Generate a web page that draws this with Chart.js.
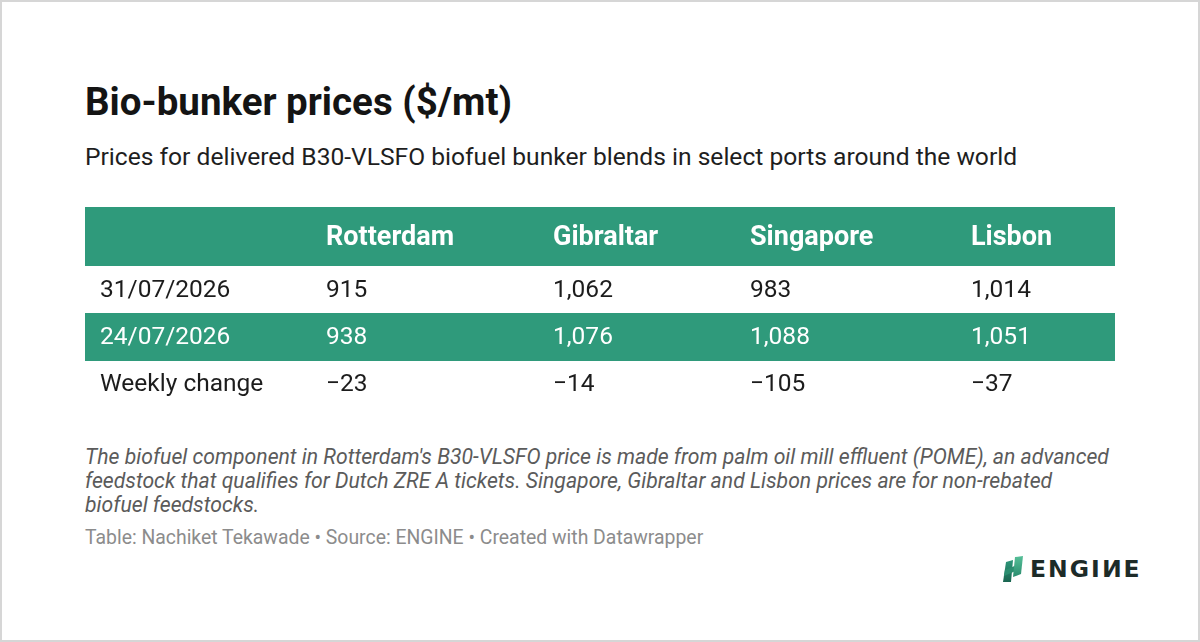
<!DOCTYPE html>
<html>
<head>
<meta charset="utf-8">
<script src="https://cdn.jsdelivr.net/npm/chart.js@4.4.1/dist/chart.umd.min.js"></script>
<style>
  html, body { margin: 0; padding: 0; background: #fff; }
  #page { position: relative; width: 1200px; height: 642px; box-sizing: border-box;
          border: 2px solid #d6d6d6; overflow: hidden; font-family: Roboto, "Noto Sans", sans-serif; }
  .abs { position: absolute; white-space: nowrap; }
  #title { left: 83px; top: 77px; font-size: 38.5px; font-weight: 700; line-height: 46px; color: #141414; }
  #subtitle { left: 83px; top: 140px; font-size: 24.6px; line-height: 30px; color: #1e1e1e; }
  #tableWrap { position: absolute; left: 83px; top: 205px; width: 1030px; height: 201px; }
  #notes { left: 83px; top: 443px; width: 1030px; white-space: normal; font-size: 21.2px; line-height: 24px;
           font-style: italic; color: #5b5b5b; }
  #byline { left: 83px; top: 524px; font-size: 19.4px; line-height: 24px; color: #8c8c8c; }
  #logo { left: 1000px; top: 553px; height: 28px; display: flex; align-items: center; }
  #logoText { font-family: "DejaVu Sans", sans-serif; font-weight: 700; font-size: 23.5px; letter-spacing: 2px;
              color: #1d2b28; margin-left: 6px; line-height: 28px; }
  .flipN { display: inline-block; transform: scaleX(-1); letter-spacing: 0; margin-right: 2px; }
</style>
</head>
<body>
<div id="page">
  <div id="title" class="abs">Bio-bunker prices ($/mt)</div>
  <div id="subtitle" class="abs">Prices for delivered B30-VLSFO biofuel bunker blends in select ports around the world</div>
  <div id="tableWrap"><canvas id="tbl"></canvas></div>
  <div id="notes" class="abs">The biofuel component in Rotterdam's B30-VLSFO price is made from palm oil mill effluent (POME), an advanced feedstock that qualifies for Dutch ZRE A tickets. Singapore, Gibraltar and Lisbon prices are for non-rebated biofuel feedstocks.</div>
  <div id="byline" class="abs">Table: Nachiket Tekawade • Source: ENGINE • Created with Datawrapper</div>
  <div id="logo" class="abs">
    <svg width="22" height="26" viewBox="0 0 22 26">
      <defs>
        <linearGradient id="gA" x1="0" y1="1" x2="0" y2="0">
          <stop offset="0" stop-color="#1a6550"/><stop offset="1" stop-color="#2e977a"/>
        </linearGradient>
        <linearGradient id="gB" x1="0" y1="1" x2="0" y2="0">
          <stop offset="0" stop-color="#2a8c6e"/><stop offset="1" stop-color="#56bf98"/>
        </linearGradient>
      </defs>
      <polygon points="4,6 11,4 9,26 1,26" fill="url(#gA)"/>
      <polygon points="3,14 17,8 16,14 2,20" fill="#2b8d6f"/>
      <polygon points="13,1 21,0 19,18 11,21" fill="url(#gB)"/>
    </svg>
    <span id="logoText">ENGI<span class="flipN">N</span>E</span>
  </div>
</div>
<script>
// ---- data ----
const ports = ['Rotterdam', 'Gibraltar', 'Singapore', 'Lisbon'];
const rowLabels = ['31/07/2026', '24/07/2026', 'Weekly change'];
const price_31_07_2026 = [915, 1062, 983, 1014];
const price_24_07_2026 = [938, 1076, 1088, 1051];
const weeklyChange = [-23, -14, -105, -37];

// ---- layout (not data) ----
const TABLE_W = 1030;
const HEADER_H = 59;
const colStart = [15, 241, 468, 665, 886];   // text start of each column within the table
const GREEN = '#2f9a7b';
const TEXT = '#1c1c1c';

const rowValues = [price_31_07_2026, price_24_07_2026, weeklyChange];
const fmt = v => (v < 0 ? '\u2212' : '') + Math.abs(v).toLocaleString('en-US');
const shaded = rowLabels.map((_, i) => i % 2 === 1);

const tablePlugin = {
  id: 'tableText',
  beforeDatasetsDraw(chart) {
    const { ctx, chartArea, scales: { x } } = chart;
    ctx.save();
    ctx.fillStyle = GREEN;
    ctx.fillRect(x.getPixelForValue(0), 0, x.getPixelForValue(TABLE_W) - x.getPixelForValue(0), chartArea.top);
    ctx.restore();
  },
  afterDatasetsDraw(chart) {
    const { ctx, chartArea, scales: { x, y } } = chart;
    ctx.save();
    ctx.textBaseline = 'middle';
    ctx.textAlign = 'left';
    // header
    ctx.font = '700 27px Roboto';
    ctx.fillStyle = '#ffffff';
    const hy = chartArea.top / 2 + 2;
    ports.forEach((p, j) => ctx.fillText(p, x.getPixelForValue(colStart[j + 1]), hy));
    // body
    ctx.font = '400 24.5px Roboto';
    rowLabels.forEach((lab, i) => {
      const py = y.getPixelForValue(i) + 1;
      ctx.fillStyle = shaded[i] ? '#ffffff' : TEXT;
      ctx.fillText(lab, x.getPixelForValue(colStart[0]), py);
      rowValues[i].forEach((v, j) => ctx.fillText(fmt(v), x.getPixelForValue(colStart[j + 1]), py));
    });
    ctx.restore();
  }
};

function build() {
  new Chart(document.getElementById('tbl'), {
    type: 'bar',
    data: {
      labels: rowLabels,
      datasets: [{
        data: shaded.map(s => (s ? [0, TABLE_W] : null)),
        backgroundColor: GREEN,
        borderWidth: 0,
        barPercentage: 1,
        categoryPercentage: 1
      }]
    },
    options: {
      indexAxis: 'y',
      responsive: true,
      maintainAspectRatio: false,
      animation: false,
      events: [],
      layout: { padding: { top: HEADER_H, left: 0, right: 0, bottom: 0 } },
      plugins: { legend: { display: false }, tooltip: { enabled: false }, title: { display: false } },
      scales: {
        x: { type: 'linear', min: 0, max: TABLE_W, display: false },
        y: { type: 'category', display: false, offset: true }
      }
    },
    plugins: [tablePlugin]
  });
}
(document.fonts && document.fonts.load ? Promise.all([
  document.fonts.load('700 27px Roboto'), document.fonts.load('400 24px Roboto')
]) : Promise.resolve()).then(build, build);
</script>
</body>
</html>
